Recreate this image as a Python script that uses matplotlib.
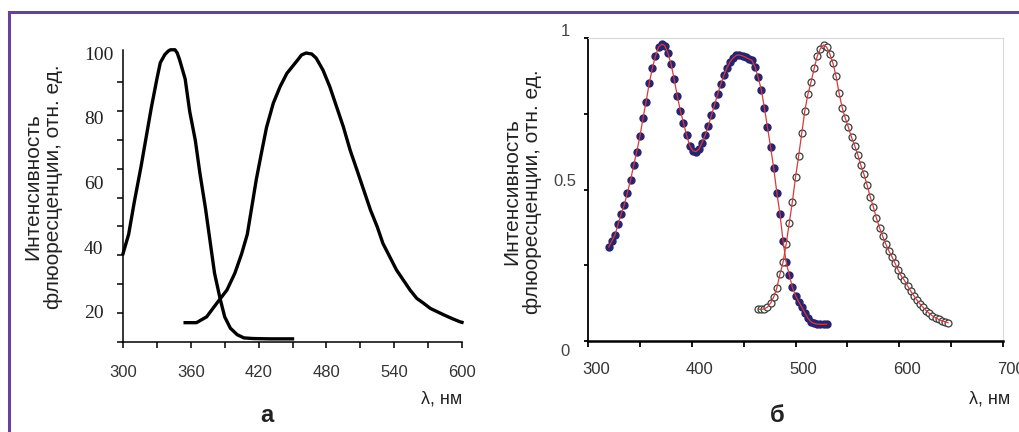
import numpy as np
import matplotlib
matplotlib.use('Agg')
import matplotlib.pyplot as plt
import matplotlib.transforms as mtransforms
from matplotlib.lines import Line2D
from matplotlib.ticker import MultipleLocator

plt.rcParams['font.family'] = ['Liberation Sans', 'DejaVu Sans']

# --- panel a: excitation / emission spectra
exc_nm = [300, 305, 310, 316, 321, 325, 330, 333, 337, 340, 342, 346, 348, 350, 355, 359,
          364, 368, 373, 377, 381, 386, 390, 395, 401, 407, 415, 430, 450]
exc_val = [38, 44, 54, 65, 75, 83, 92, 97, 99.5, 100.6, 101, 101, 100, 98, 92, 82,
           73, 63, 52, 42, 32, 24, 18.5, 15, 13, 12, 11.8, 11.7, 11.7]
em_nm = [355, 365, 374, 383, 392, 399, 405, 410, 414, 418, 423, 427, 433, 439,
         445, 448, 454, 458, 462, 467, 471, 477, 483, 489, 495, 501, 507, 513, 519,
         525, 530, 536, 542, 548, 554, 560, 566, 572, 578, 584, 591, 598, 600]
em_val = [16.7, 16.7, 18.5, 22.7, 26.8, 32, 38, 44, 52.5, 61, 70, 77, 84.5, 89.6,
          93.7, 95, 97.6, 99.4, 100, 99.7, 98.4, 94.7, 89.6, 83.4, 77.2, 70, 63.9, 57.7, 51.5,
          46.3, 41.2, 37.1, 33, 29.9, 26.8, 24.2, 22.7, 21.1, 20.1, 19.1, 18, 17, 16.8]
a_xticks = [300, 360, 420, 480, 540, 600]
a_yticks = [20, 40, 60, 80, 100]

# --- panel b: two sampled spectra, 3 nm step
blue_nm = np.arange(320, 531, 3)
blue_val = [0.31, 0.33, 0.35, 0.385, 0.42, 0.45, 0.49, 0.53, 0.58, 0.625,
            0.675, 0.735, 0.79, 0.85, 0.9, 0.94, 0.97, 0.98, 0.975, 0.95,
            0.915, 0.865, 0.81, 0.76, 0.72, 0.68, 0.645, 0.628, 0.625, 0.633,
            0.655, 0.68, 0.71, 0.745, 0.78, 0.815, 0.848, 0.877, 0.902, 0.922,
            0.935, 0.943, 0.944, 0.941, 0.936, 0.931, 0.926, 0.905, 0.87, 0.83,
            0.77, 0.705, 0.64, 0.57, 0.49, 0.42, 0.33, 0.26, 0.218, 0.177,
            0.15, 0.13, 0.112, 0.093, 0.075, 0.063, 0.058, 0.056, 0.055, 0.055,
            0.056]
open_nm = np.arange(464, 648, 3)
open_val = [0.105, 0.104, 0.106, 0.112, 0.125, 0.145, 0.175, 0.22, 0.26, 0.32,
            0.39, 0.46, 0.54, 0.61, 0.685, 0.76, 0.815, 0.855, 0.9, 0.94,
            0.965, 0.977, 0.97, 0.948, 0.918, 0.875, 0.818, 0.77, 0.735, 0.705,
            0.672, 0.645, 0.615, 0.58, 0.55, 0.515, 0.476, 0.443, 0.405, 0.374,
            0.346, 0.32, 0.297, 0.278, 0.256, 0.234, 0.214, 0.2, 0.182, 0.165,
            0.15, 0.135, 0.122, 0.111, 0.1, 0.091, 0.083, 0.077, 0.071, 0.067,
            0.064, 0.06]
b_xticks = [300, 400, 500, 600, 700]
b_yticks = [0, 0.5, 1]
b_ylabels = ['0', '0.5', '1']

ylabel_text = 'Интенсивность\nфлюоресценции, отн. ед.'
xlabel_text = 'λ, нм'

W, H = 1019, 432
fig = plt.figure(figsize=(W / 100, H / 100), dpi=100)


def box(x0, y0, x1, y1):
    return [x0 / W, 1 - y1 / H, (x1 - x0) / W, (y1 - y0) / H]


def fpos(x, y):
    return x / W, 1 - y / H


# ---------------- panel a
ax1 = fig.add_axes(box(123, 50, 462, 342))
ax1.plot(exc_nm, exc_val, color='black', lw=2.4, clip_on=False)
ax1.plot(em_nm, em_val, color='black', lw=2.4, clip_on=False)
ax1.set_xlim(300, 600)
ax1.set_ylim(10.73, 100.93)
for s in ['top', 'right']:
    ax1.spines[s].set_visible(False)
for s in ['left', 'bottom']:
    ax1.spines[s].set_linewidth(1.1)
ax1.set_xticks(a_xticks)
ax1.xaxis.set_minor_locator(MultipleLocator(30))
ax1.tick_params(axis='x', which='both', direction='out', length=4.3, width=1.1,
                labelsize=12, labelcolor='#333333', pad=12)
ax1.set_yticks(a_yticks)
ax1.set_yticks(np.linspace(10.73, 100, 11), minor=True)
ax1.tick_params(axis='y', which='major', length=0, pad=28, labelsize=14,
                labelcolor='#222222')
ax1.tick_params(axis='y', which='minor', direction='out', length=4.3, width=1.1)
for lab in ax1.get_yticklabels():
    lab.set_fontfamily('Liberation Serif')
    lab.set_horizontalalignment('left')

# ---------------- panel b
ax2 = fig.add_axes(box(588, 38, 1003, 341))
ax2.plot(blue_nm, blue_val, 'o', ms=5, mfc='#27236e', mec='#27236e', zorder=2)
ax2.plot(blue_nm, blue_val, '-', color='#d83a3a', lw=0.9, zorder=3)
ax2.plot(open_nm, open_val, 'o', ms=5, mfc='white', mec='#3c3c3c', mew=0.9, zorder=2)
ax2.plot(open_nm, open_val, '-', color='#d83a3a', lw=0.9, zorder=3)
ax2.set_xlim(300, 700)
ax2.set_ylim(0, 1)
for s in ['top', 'right']:
    ax2.spines[s].set_color('#d9d9d9')
    ax2.spines[s].set_linewidth(0.8)
ax2.spines['left'].set_linewidth(1.3)
ax2.spines['bottom'].set_linewidth(1.8)
ax2.set_xticks(b_xticks)
ax2.xaxis.set_minor_locator(MultipleLocator(50))
ax2.tick_params(axis='x', which='both', direction='out', length=4.3, width=1.3,
                labelsize=12, labelcolor='#333333', pad=11)
shift = mtransforms.ScaledTranslation(8 / 100, 0, fig.dpi_scale_trans)
for lab in ax2.get_xticklabels():
    lab.set_transform(lab.get_transform() + shift)
ax2.set_yticks([0, 0.25, 0.5, 0.75, 1])
ax2.tick_params(axis='y', direction='out', length=3, width=1.3, labelleft=False)
ylab_tr = mtransforms.blended_transform_factory(ax2.transAxes, ax2.transData)
for val, txt, dy in zip(b_yticks, b_ylabels, [-11, 8, 6]):
    tr = mtransforms.offset_copy(ylab_tr, fig=fig, x=-23, y=dy, units='dots')
    ax2.text(0, val, txt, transform=tr, ha='center', va='center',
             fontsize=12, color='#444444')

# ---------------- labels
for x, y in [(43, 187), (522, 192)]:
    fig.text(*fpos(x, y), ylabel_text, rotation=90, ha='center', va='center',
             fontsize=15, linespacing=1.1, multialignment='center', color='#222222')
for x in [442, 990]:
    fig.text(*fpos(x, 399), xlabel_text, ha='center', va='center', fontsize=13,
             color='#222222')
fig.text(*fpos(267, 415), 'а', ha='center', va='center', fontsize=17,
         fontweight='bold', color='#222222')
fig.text(*fpos(777, 415), 'б', ha='center', va='center', fontsize=17,
         fontweight='bold', color='#222222')

# purple frame (top and left edges)
fx, fy = fpos(9, 12)
fig.add_artist(Line2D([fx, fx], [0, fy], transform=fig.transFigure,
                      color='#6b3fa0', lw=2.2))
fig.add_artist(Line2D([fx, 1], [fy, fy], transform=fig.transFigure,
                      color='#6b3fa0', lw=2.2))

fig.savefig('out.png', dpi=100)
